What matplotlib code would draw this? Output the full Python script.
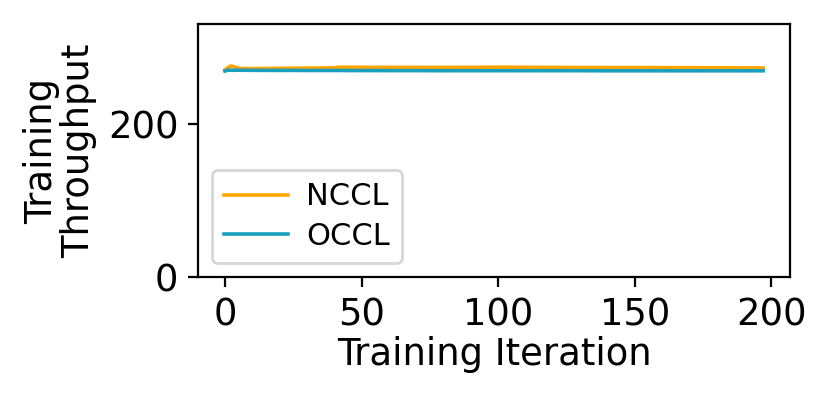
import matplotlib
matplotlib.use("Agg")
import matplotlib.pyplot as plt

iters = [0, 1, 2, 3, 4, 5, 6, 8, 10, 15, 20, 25, 30, 35, 40, 42, 45, 50, 60, 70, 80, 90, 100, 110,
         120, 130, 140, 150, 160, 170, 180, 190, 197]
nccl = [271.0, 273.5, 276.0, 275.5, 274.0, 273.0, 272.8, 272.6, 272.6, 272.8, 273.0, 273.2, 273.3,
        273.5, 273.8, 274.5, 274.5, 274.4, 274.3, 274.3, 274.2, 274.3, 274.5, 274.4,
        274.2, 274.1, 274.0, 274.0, 273.9, 273.8, 273.7, 273.6, 273.5]
occl = [269.5, 270.5, 270.6, 270.4, 270.5, 270.6, 270.5, 270.4, 270.4, 270.3, 270.3, 270.3, 270.2,
        270.2, 270.2, 270.2, 270.1, 270.1, 270.0, 270.0, 269.9, 269.9, 269.9, 269.9,
        269.9, 269.9, 269.8, 269.8, 269.8, 269.8, 269.8, 269.8, 269.8]

fig = plt.figure(figsize=(4.15, 1.995), dpi=200)
ax = fig.add_axes([198/830, 1 - 277/399, (790-198)/830, (277-24)/399])
ax.plot(iters, nccl, color="#ffa500", lw=1.3, label="NCCL")
ax.plot(iters, occl, color="#1aa0bf", lw=1.3, label="OCCL")
ax.set_ylim(0, 331)
ax.set_yticks([0, 200])
ax.set_xticks([0, 50, 100, 150, 200])
ax.tick_params(labelsize=13.3)
ax.set_xlabel("Training Iteration", fontsize=13.3, labelpad=1)
ax.set_ylabel("Training\nThroughput", fontsize=13.3, labelpad=4, linespacing=1.0)
ax.legend(loc="lower left", fontsize=11, handlelength=2.1, handletextpad=0.6,
          borderpad=0.4, labelspacing=0.35, borderaxespad=0.45)
fig.savefig("out.png", dpi=200)
